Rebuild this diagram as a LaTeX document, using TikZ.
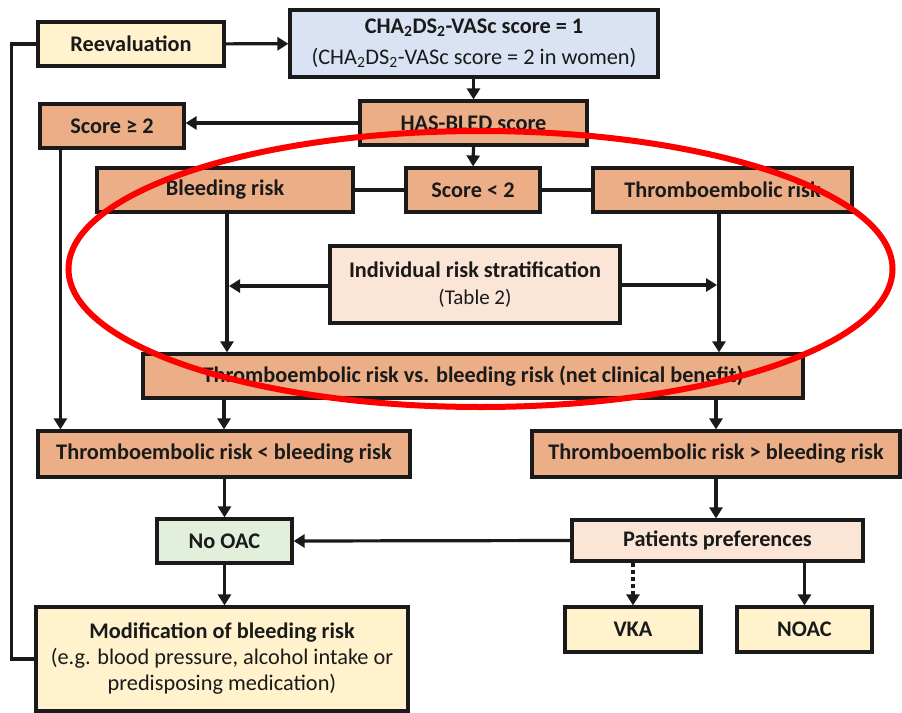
\documentclass[tikz,border=0pt]{standalone}
\usepackage{fontspec}
\setmainfont{Carlito}
\usetikzlibrary{arrows.meta,calc}

\definecolor{boxorange}{HTML}{EBAE87}
\definecolor{boxblue}{HTML}{DAE3F3}
\definecolor{boxyellow}{HTML}{FFF2CC}
\definecolor{boxpink}{HTML}{FBE5D6}
\definecolor{boxgreen}{HTML}{E2EFDA}
\definecolor{ink}{HTML}{1A1A1A}

\newcommand{\plain}{\mdseries}

\tikzset{
  box/.style={draw=ink, line width=3.2pt, rectangle, inner sep=0pt, align=center,
    text=ink, font=\fontsize{22.3}{26}\selectfont\bfseries},
  orangebox/.style={box, fill=boxorange},
  conn/.style={draw=ink, line width=3.2pt},
  arr/.style={conn, -{Triangle[length=11pt,width=13pt]}},
  dotarr/.style={arr, dash pattern=on 4pt off 3pt},
  mark ring/.style={draw=red, line width=6pt},
}

\begin{document}
\begin{tikzpicture}[x=1pt, y=-1pt]
  \useasboundingbox (0,0) rectangle (902,712);
  \clip (0,0) rectangle (902,712);
  \fill[white] (0,0) rectangle (902,712);

  % boxes
  \node[box, fill=boxblue, minimum width=368, minimum height=67] (cha) at (474,43.5)
    {CHA\textsubscript{2}DS\textsubscript{2}-VASc score = 1\\[5pt]
     \plain (CHA\textsubscript{2}DS\textsubscript{2}-VASc score = 2 in women)};
  \node[box, fill=boxyellow, minimum width=186, minimum height=44] (reeval) at (131,44) {Reevaluation};
  \node[orangebox, minimum width=144, minimum height=44] (sc2) at (112,126) {Score ≥ 2};
  \node[orangebox, minimum width=227, minimum height=44] (hasbled) at (473.5,123) {HAS-BLED score};
  \node[orangebox, minimum width=256, minimum height=44] (bleed) at (225,190) {Bleeding risk};
  \node[orangebox, minimum width=134, minimum height=44] (sclt) at (473,190) {Score < 2};
  \node[orangebox, minimum width=259, minimum height=44] (thromb) at (722.5,190) {Thromboembolic risk};
  \node[box, fill=boxpink, minimum width=290, minimum height=77] (indiv) at (475,284.5)
    {Individual risk stratification\\[1pt]\plain\fontsize{21}{24}\selectfont (Table 2)};
  \node[orangebox, minimum width=660, minimum height=44] (tvs) at (473,376)
    {Thromboembolic risk vs. bleeding risk (net clinical benefit)};
  \node[orangebox, minimum width=372, minimum height=46] (tlt) at (224,454)
    {Thromboembolic risk < bleeding risk};
  \node[orangebox, minimum width=368, minimum height=46] (tgt) at (716,454)
    {Thromboembolic risk > bleeding risk};
  \node[box, fill=boxgreen, minimum width=135, minimum height=44] (nooac) at (224.5,541) {No OAC};
  \node[box, fill=boxyellow, minimum width=372, minimum height=104] (modif) at (222,659)
    {Modification of bleeding risk\\[0pt]
     \plain (e.g. blood pressure, alcohol intake or\\[0pt]\plain predisposing medication)};
  \node[box, fill=boxpink, minimum width=291, minimum height=41] (pp) at (717.5,540.5) {Patients preferences};
  \node[box, fill=boxyellow, minimum width=136, minimum height=45] (vka) at (633,629.5) {VKA};
  \node[box, fill=boxyellow, minimum width=135, minimum height=45] (noac) at (804.5,629.5) {NOAC};

  % connectors
  \draw[arr] (reeval) -- (cha);
  \draw[arr] (cha.south -| hasbled.north) -- (hasbled.north);
  \draw[arr] (hasbled.west) -- (hasbled.west -| sc2.east);
  \draw[arr] (hasbled.south) -- (sclt.north);
  \draw[conn] (bleed) -- (sclt);
  \draw[conn] (sclt) -- (thromb);
  \coordinate (bdrop) at ($(bleed.south)+(2,0)$);
  \coordinate (tdrop) at ($(thromb.south)+(-3.5,0)$);
  \draw[arr] (bdrop) -- (bdrop |- tvs.north);
  \draw[arr] (tdrop) -- (tdrop |- tvs.north);
  \draw[arr] ($(indiv.west)+(0,1.5)$) -- ($(indiv.west -| bdrop)+(2,1.5)$);
  \draw[arr] ($(indiv.east)+(0,0.5)$) -- ($(indiv.east -| tdrop)+(-2,0.5)$);
  \coordinate (sdrop) at ($(sc2.south west)+(22,0)$);
  \draw[arr] (sdrop) -- (sdrop |- tlt.north);
  \draw[arr] (tvs.south -| tlt.north) -- (tlt.north);
  \draw[arr] (tvs.south -| tgt.north) -- (tgt.north);
  \draw[arr] (tlt.south) -- (nooac.north |- tlt.south) -- (nooac.north);
  \draw[arr] (nooac.south) -- (nooac.south |- modif.north);
  \draw[arr] (tgt.south) -- (tgt.south |- pp.north);
  \draw[arr] (pp.west) -- (nooac.east);
  \draw[dotarr] (pp.south -| vka.north) -- (vka.north);
  \draw[arr] (pp.south -| noac.north) -- (noac.north);
  \draw[conn] (reeval.west) -- ++(-25,0) |- (modif.west);

  % highlight ring
  \draw[mark ring] (480.5,269) ellipse [x radius=412, y radius=138];
\end{tikzpicture}
\end{document}
